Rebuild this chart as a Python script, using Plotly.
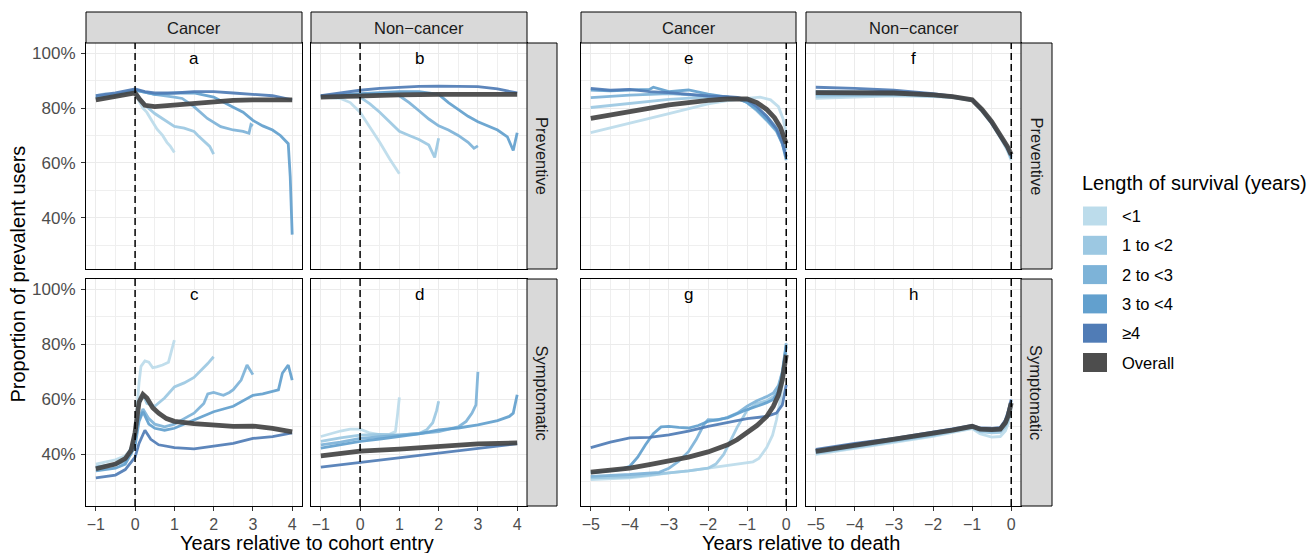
import plotly.graph_objects as go

# ---------------- DATA ----------------
SURVIVAL_GROUPS = ["<1", "1 to <2", "2 to <3", "3 to <4", "≥4", "Overall"]
Y_TICKS = [40, 60, 80, 100]
Y_TICK_LABELS = ["40%", "60%", "80%", "100%"]
X_TICKS_ENTRY = [-1, 0, 1, 2, 3, 4]
X_TICKS_DEATH = [-5, -4, -3, -2, -1, 0]
STRIP_COLS = ["Cancer", "Non\u2212cancer"]
STRIP_ROWS = ["Preventive", "Symptomatic"]

# Panel a: Cancer, Preventive, years relative to cohort entry
A_LT1_X = [-1, -0.75, -0.5, -0.25, 0, 0.1, 0.2, 0.3, 0.4, 0.56, 0.7, 0.81, 0.9, 1.0]
A_LT1_Y = [84.5, 85.3, 85.0, 85.6, 85.8, 82.5, 80.0, 78.4, 76.0, 72.3, 70.0, 67.5, 66.0, 63.8]
A_1TO2_X = [-1, -0.5, 0, 0.1, 0.3, 0.5, 0.75, 1.0, 1.25, 1.5, 1.6, 1.75, 1.9, 2.0]
A_1TO2_Y = [84.0, 85.0, 86.0, 84.0, 80.5, 78.0, 75.5, 73.3, 72.7, 71.5, 70.0, 68.0, 66.0, 63.2]
A_2TO3_X = [-1, -0.5, 0, 0.5, 1.0, 1.2, 1.5, 1.84, 2.18, 2.4, 2.5, 2.75, 2.9, 2.95, 3.0]
A_2TO3_Y = [84.0, 85.0, 86.5, 85.0, 84.0, 83.5, 80.5, 76.2, 73.2, 72.5, 72.0, 71.5, 70.8, 74.0, 73.5]
A_3TO4_X = [-1, -0.5, 0, 0.5, 1.0, 1.5, 2.0, 2.25, 2.5, 2.75, 3.0, 3.25, 3.5, 3.7, 3.8, 3.9, 3.95, 4.0]
A_3TO4_Y = [83.5, 84.5, 86.5, 85.0, 85.5, 85.5, 84.0, 82.0, 80.3, 78.5, 75.5, 73.5, 72.0, 70.0, 68.5, 67.0, 55.0, 33.8]
A_GE4_X = [-1, -0.5, 0, 0.25, 0.5, 1.0, 1.5, 2.0, 2.5, 3.0, 3.5, 4.0]
A_GE4_Y = [84.5, 85.5, 87.0, 86.0, 85.5, 85.5, 86.0, 86.0, 85.5, 85.0, 84.5, 83.0]
A_OVR_X = [-1, -0.5, 0, 0.1, 0.25, 0.5, 0.75, 1.0, 1.5, 2.0, 2.5, 3.0, 3.5, 4.0]
A_OVR_Y = [83.0, 84.2, 85.5, 83.5, 81.0, 80.5, 80.8, 81.2, 81.8, 82.5, 82.8, 83.0, 83.0, 83.0]

# Panel b: Non-cancer, Preventive, years relative to cohort entry
B_LT1_X = [-1, -0.5, -0.25, 0, 0.25, 0.5, 0.75, 1.0]
B_LT1_Y = [84.0, 83.5, 82.0, 78.5, 73.0, 67.5, 61.5, 56.0]
B_1TO2_X = [-1, -0.5, 0, 0.25, 0.5, 0.75, 1.0, 1.25, 1.5, 1.75, 1.9, 2.0]
B_1TO2_Y = [84.2, 84.3, 84.0, 81.5, 78.5, 75.0, 71.5, 70.0, 68.5, 66.5, 62.0, 69.0]
B_2TO3_X = [-1, 0, 0.5, 1.0, 1.25, 1.5, 1.75, 2.0, 2.25, 2.5, 2.75, 2.9, 3.0]
B_2TO3_Y = [84.3, 84.8, 85.2, 84.5, 82.0, 79.0, 76.0, 73.5, 72.0, 70.0, 67.5, 65.3, 66.2]
B_3TO4_X = [-1, 0, 1.0, 1.5, 2.0, 2.25, 2.5, 2.75, 3.0, 3.25, 3.5, 3.75, 3.9, 4.0]
B_3TO4_Y = [84.5, 85.2, 86.0, 86.0, 85.0, 82.0, 79.5, 77.0, 75.0, 73.5, 72.0, 69.5, 64.5, 71.0]
B_GE4_X = [-1, -0.5, 0, 0.5, 1.0, 1.5, 2.0, 2.5, 3.0, 3.5, 4.0]
B_GE4_Y = [84.5, 85.5, 86.5, 87.2, 87.6, 87.9, 88.0, 88.0, 87.8, 87.0, 85.5]
B_OVR_X = [-1, 0, 1, 2, 3, 4]
B_OVR_Y = [84.0, 84.5, 84.8, 85.0, 85.0, 85.0]

# Panel c: Cancer, Symptomatic, years relative to cohort entry
C_LT1_X = [-1, -0.75, -0.5, -0.25, -0.1, 0, 0.05, 0.1, 0.15, 0.25, 0.35, 0.45, 0.55, 0.7, 0.85, 0.92, 1.0]
C_LT1_Y = [36.5, 37.2, 38.0, 39.5, 42.0, 48.0, 58.0, 66.0, 72.0, 74.0, 73.5, 71.5, 71.8, 72.5, 73.5, 77.0, 81.5]
C_1TO2_X = [-1, -0.5, -0.25, -0.1, 0, 0.1, 0.2, 0.3, 0.5, 0.75, 1.0, 1.25, 1.5, 1.75, 1.85, 2.0]
C_1TO2_Y = [35.5, 36.5, 38.0, 40.0, 48.0, 58.0, 62.0, 58.5, 57.5, 60.5, 64.5, 66.0, 68.0, 71.5, 73.0, 75.5]
C_2TO3_X = [-1, -0.5, -0.25, 0, 0.1, 0.2, 0.35, 0.5, 0.75, 1.0, 1.25, 1.5, 1.75, 1.85, 2.0, 2.25, 2.4, 2.5, 2.7, 2.85, 3.0]
C_2TO3_Y = [35.3, 36.3, 37.5, 46.0, 53.0, 56.5, 53.0, 51.0, 50.0, 51.0, 53.0, 55.0, 58.5, 62.0, 62.5, 61.5, 62.5, 63.5, 67.0, 72.5, 69.0]
C_3TO4_X = [-1, -0.5, -0.25, 0, 0.1, 0.2, 0.35, 0.5, 0.75, 1.0, 1.5, 2.0, 2.5, 3.0, 3.25, 3.5, 3.65, 3.75, 3.9, 4.0]
C_3TO4_Y = [34.0, 35.0, 36.5, 43.0, 52.0, 55.5, 51.0, 49.5, 48.8, 49.5, 52.5, 55.5, 57.5, 61.5, 62.0, 63.0, 63.5, 69.5, 72.5, 67.0]
C_GE4_X = [-1, -0.5, -0.25, 0, 0.1, 0.25, 0.4, 0.6, 1.0, 1.5, 2.0, 2.5, 3.0, 3.5, 4.0]
C_GE4_Y = [31.5, 32.5, 34.5, 39.0, 44.0, 48.8, 45.5, 43.5, 42.5, 42.0, 43.0, 44.0, 45.8, 46.5, 47.8]
C_OVR_X = [-1, -0.5, -0.25, -0.1, 0, 0.05, 0.1, 0.2, 0.3, 0.45, 0.6, 0.8, 1.0, 1.5, 2.0, 2.5, 3.0, 3.5, 4.0]
C_OVR_Y = [34.8, 36.5, 38.5, 41.5, 48.0, 54.0, 59.0, 61.8, 60.5, 57.0, 55.0, 53.0, 52.0, 51.2, 50.6, 50.2, 50.3, 49.5, 48.2]

# Panel d: Non-cancer, Symptomatic, years relative to cohort entry
D_LT1_X = [-1, -0.75, -0.5, -0.25, 0, 0.25, 0.5, 0.75, 0.9, 0.95, 1.0]
D_LT1_Y = [46.5, 47.5, 48.5, 49.2, 49.2, 47.8, 47.2, 47.3, 48.3, 54.0, 60.7]
D_1TO2_X = [-1, -0.5, 0, 0.5, 1.0, 1.5, 1.7, 1.85, 1.95, 2.0]
D_1TO2_Y = [44.7, 46.0, 47.0, 47.3, 47.1, 47.6, 49.0, 51.5, 56.0, 59.3]
D_2TO3_X = [-1, -0.5, 0, 0.5, 1.0, 1.5, 2.0, 2.5, 2.7, 2.85, 2.95, 3.0]
D_2TO3_Y = [43.5, 44.5, 45.8, 46.5, 47.0, 47.6, 48.3, 50.0, 52.0, 55.0, 58.0, 70.0]
D_3TO4_X = [-1, -0.5, 0, 0.5, 1.0, 1.5, 2.0, 2.5, 3.0, 3.5, 3.8, 3.9, 4.0]
D_3TO4_Y = [42.3, 43.5, 44.7, 45.6, 46.5, 47.5, 48.9, 49.6, 50.7, 52.3, 53.8, 55.0, 61.7]
D_GE4_X = [-1, 0, 1, 2, 3, 4]
D_GE4_Y = [35.4, 37.1, 38.7, 40.5, 42.3, 43.9]
D_OVR_X = [-1, 0, 1, 2, 3, 4]
D_OVR_Y = [39.5, 41.2, 41.9, 42.9, 43.8, 44.2]

# Panel e: Cancer, Preventive, years relative to death
E_LT1_X = [-5, -4, -3, -2, -1.5, -1, -0.67, -0.4, -0.2, -0.08, 0]
E_LT1_Y = [71.0, 74.4, 78.0, 81.5, 82.7, 83.5, 84.0, 83.0, 80.5, 76.0, 70.8]
E_1TO2_X = [-5, -4, -3, -2, -1.5, -1.25, -1, -0.75, -0.5, -0.25, -0.1, 0]
E_1TO2_Y = [80.2, 81.7, 83.2, 84.0, 84.0, 83.8, 82.8, 80.0, 77.0, 73.0, 69.5, 64.7]
E_2TO3_X = [-5, -4, -3, -2, -1.5, -1.25, -1, -0.75, -0.5, -0.25, -0.1, 0]
E_2TO3_Y = [83.8, 84.7, 85.3, 84.5, 84.0, 83.5, 82.0, 79.0, 75.5, 71.5, 67.0, 62.3]
E_3TO4_X = [-5, -4.5, -4, -3.5, -3.4, -3, -2.5, -2, -1.5, -1.25, -1, -0.75, -0.5, -0.25, -0.1, 0]
E_3TO4_Y = [86.6, 86.3, 86.6, 86.8, 87.6, 86.0, 86.6, 85.1, 84.0, 83.5, 82.0, 79.5, 76.0, 72.0, 67.0, 61.0]
E_GE4_X = [-5, -4.5, -4, -3.5, -3, -2.5, -2, -1.5, -1.25, -1, -0.75, -0.5, -0.25, -0.1, 0]
E_GE4_Y = [87.2, 86.5, 86.8, 86.0, 85.6, 85.0, 84.4, 84.2, 83.9, 83.0, 80.5, 77.0, 72.5, 67.5, 62.3]
E_OVR_X = [-5, -4, -3, -2, -1.5, -1, -0.75, -0.5, -0.3, -0.15, 0]
E_OVR_Y = [76.2, 78.7, 81.2, 82.8, 83.3, 83.3, 82.0, 79.5, 76.5, 73.0, 67.0]

# Panel f: Non-cancer, Preventive, years relative to death
F_X = [-5, -4, -3, -2, -1.5, -1, -0.75, -0.5, -0.25, -0.1, 0]
F_LT1_Y = [83.5, 84.0, 84.5, 84.2, 83.8, 82.7, 78.8, 74.2, 68.5, 64.5, 61.0]
F_1TO2_Y = [84.3, 84.6, 84.8, 84.4, 83.9, 82.8, 79.0, 74.5, 68.8, 65.0, 61.5]
F_2TO3_Y = [85.0, 85.2, 85.2, 84.6, 84.0, 82.9, 79.3, 74.8, 69.2, 65.5, 62.0]
F_3TO4_Y = [86.0, 86.0, 85.8, 85.0, 84.3, 83.0, 79.5, 75.0, 69.5, 66.0, 63.0]
F_GE4_Y = [87.6, 87.2, 86.5, 85.3, 84.4, 83.0, 79.3, 74.5, 69.0, 65.5, 62.5]
F_OVR_Y = [85.6, 85.7, 85.5, 84.8, 84.2, 83.0, 79.5, 75.0, 69.5, 66.0, 63.0]

# Panel g: Cancer, Symptomatic, years relative to death
G_LT1_X = [-5, -4.5, -4, -3.5, -3, -2.5, -2, -1.5, -1.25, -1, -0.85, -0.7, -0.5, -0.35, -0.25, -0.15, -0.08, 0]
G_LT1_Y = [30.8, 31.2, 31.5, 32.3, 33.3, 34.0, 35.0, 36.0, 36.5, 37.0, 37.3, 38.5, 42.5, 47.0, 52.5, 60.0, 67.0, 76.8]
G_1TO2_X = [-5, -4, -3, -2.5, -2, -1.8, -1.6, -1.4, -1.25, -1, -0.75, -0.5, -0.33, -0.2, -0.1, 0]
G_1TO2_Y = [31.5, 31.8, 33.3, 34.0, 35.0, 36.5, 40.0, 46.0, 50.0, 56.0, 58.5, 59.5, 61.0, 64.0, 70.0, 79.8]
G_2TO3_X = [-5, -4, -3.25, -3, -2.75, -2.5, -2.3, -2.1, -2, -1.75, -1.5, -1.25, -1, -0.75, -0.5, -0.33, -0.2, -0.1, 0]
G_2TO3_Y = [32.0, 32.7, 33.5, 35.0, 37.5, 41.0, 45.5, 51.0, 52.6, 52.5, 53.5, 55.0, 57.5, 59.5, 61.0, 62.3, 65.0, 70.0, 80.4]
G_3TO4_X = [-5, -4.25, -4, -3.8, -3.6, -3.4, -3.2, -3, -2.75, -2.5, -2.25, -2, -1.5, -1, -0.75, -0.5, -0.33, -0.2, -0.1, 0]
G_3TO4_Y = [33.3, 34.5, 35.7, 39.0, 43.5, 47.5, 50.0, 50.2, 49.8, 49.6, 50.5, 52.0, 53.3, 56.3, 57.5, 58.8, 60.0, 63.0, 69.0, 79.2]
G_GE4_X = [-5, -4.5, -4, -3.5, -3, -2.5, -2, -1.5, -1, -0.5, -0.25, -0.1, 0]
G_GE4_Y = [42.5, 44.5, 46.0, 46.2, 47.1, 48.5, 50.2, 51.5, 53.0, 53.8, 55.0, 58.0, 65.3]
G_OVR_X = [-5, -4.5, -4, -3.5, -3, -2.5, -2, -1.5, -1.25, -1, -0.75, -0.5, -0.33, -0.2, -0.1, 0]
G_OVR_Y = [33.6, 34.2, 35.0, 36.3, 37.5, 39.0, 40.9, 43.5, 45.4, 47.8, 50.5, 53.8, 57.5, 61.5, 67.0, 76.2]

# Panel h: Non-cancer, Symptomatic, years relative to death
H_X = [-5, -4, -3, -2, -1.5, -1, -0.8, -0.5, -0.28, -0.15, -0.08, 0]
H_LT1_Y = [40.0, 42.2, 44.3, 46.6, 48.0, 49.4, 47.5, 46.3, 46.5, 48.5, 51.0, 56.5]
H_1TO2_Y = [40.4, 42.6, 44.6, 46.9, 48.4, 49.7, 48.3, 47.8, 48.0, 50.0, 52.5, 57.5]
H_2TO3_Y = [40.8, 43.0, 45.0, 47.3, 48.7, 50.0, 49.0, 48.5, 48.8, 51.0, 53.5, 58.5]
H_3TO4_Y = [41.3, 43.5, 45.4, 47.6, 49.0, 50.2, 49.2, 49.0, 49.3, 52.0, 55.0, 59.5]
H_GE4_Y = [41.8, 44.0, 45.8, 48.0, 49.3, 50.5, 49.6, 49.5, 49.8, 52.5, 55.5, 60.0]
H_OVR_Y = [41.1, 43.3, 45.2, 47.5, 48.8, 50.2, 49.2, 49.0, 49.2, 51.5, 54.0, 58.7]

# ---------------- STYLE / LAYOUT ----------------
W, H = 1314, 553
FONT = "Arial, 'Liberation Sans', Helvetica, sans-serif"
COLORS = ["#BCDCEB", "#9CC8E2", "#7DB3D8", "#62A0CE", "#507CB6", "#444444"]

PANEL_DATA = {
    "a": [(A_LT1_X, A_LT1_Y), (A_1TO2_X, A_1TO2_Y), (A_2TO3_X, A_2TO3_Y), (A_3TO4_X, A_3TO4_Y), (A_GE4_X, A_GE4_Y), (A_OVR_X, A_OVR_Y)],
    "b": [(B_LT1_X, B_LT1_Y), (B_1TO2_X, B_1TO2_Y), (B_2TO3_X, B_2TO3_Y), (B_3TO4_X, B_3TO4_Y), (B_GE4_X, B_GE4_Y), (B_OVR_X, B_OVR_Y)],
    "c": [(C_LT1_X, C_LT1_Y), (C_1TO2_X, C_1TO2_Y), (C_2TO3_X, C_2TO3_Y), (C_3TO4_X, C_3TO4_Y), (C_GE4_X, C_GE4_Y), (C_OVR_X, C_OVR_Y)],
    "d": [(D_LT1_X, D_LT1_Y), (D_1TO2_X, D_1TO2_Y), (D_2TO3_X, D_2TO3_Y), (D_3TO4_X, D_3TO4_Y), (D_GE4_X, D_GE4_Y), (D_OVR_X, D_OVR_Y)],
    "e": [(E_LT1_X, E_LT1_Y), (E_1TO2_X, E_1TO2_Y), (E_2TO3_X, E_2TO3_Y), (E_3TO4_X, E_3TO4_Y), (E_GE4_X, E_GE4_Y), (E_OVR_X, E_OVR_Y)],
    "f": [(F_X, F_LT1_Y), (F_X, F_1TO2_Y), (F_X, F_2TO3_Y), (F_X, F_3TO4_Y), (F_X, F_GE4_Y), (F_X, F_OVR_Y)],
    "g": [(G_LT1_X, G_LT1_Y), (G_1TO2_X, G_1TO2_Y), (G_2TO3_X, G_2TO3_Y), (G_3TO4_X, G_3TO4_Y), (G_GE4_X, G_GE4_Y), (G_OVR_X, G_OVR_Y)],
    "h": [(H_X, H_LT1_Y), (H_X, H_1TO2_Y), (H_X, H_2TO3_Y), (H_X, H_3TO4_Y), (H_X, H_GE4_Y), (H_X, H_OVR_Y)],
}

# pixel boxes: (left, right, top, bottom)
BOXES = {
    "a": (86, 302, 43, 269), "b": (311, 527, 43, 269),
    "c": (86, 302, 279, 506), "d": (311, 527, 279, 506),
    "e": (581, 796, 43, 269), "f": (806, 1021, 43, 269),
    "g": (581, 796, 279, 506), "h": (806, 1021, 279, 506),
}
ORDER = ["a", "b", "c", "d", "e", "f", "g", "h"]


def px(xp):
    return xp / W


def py(yp):
    return 1 - yp / H


fig = go.Figure()
layout = dict(
    width=W, height=H, autosize=False,
    margin=dict(l=0, r=0, t=0, b=0),
    paper_bgcolor="white", plot_bgcolor="white",
    showlegend=False,
    font=dict(family=FONT, color="black"),
)
shapes = []
annotations = []

for i, name in enumerate(ORDER, start=1):
    l, r, t, b = BOXES[name]
    entry = name in "abcd"
    bottom = name in "cdgh"
    left = name in "ac"
    xk = "xaxis" if i == 1 else f"xaxis{i}"
    yk = "yaxis" if i == 1 else f"yaxis{i}"
    xr = "x" if i == 1 else f"x{i}"
    yr = "y" if i == 1 else f"y{i}"
    layout[xk] = dict(
        domain=[px(l), px(r)], anchor=yr,
        range=[-1.25, 4.25] if entry else [-5.25, 0.25],
        tickmode="array", tickvals=X_TICKS_ENTRY if entry else X_TICKS_DEATH,
        showgrid=True, gridcolor="#EBEBEB", gridwidth=1.1,
        minor=dict(tick0=0, dtick=0.5, showgrid=True, gridcolor="#EFEFEF", gridwidth=0.6),
        zeroline=False, showline=True, mirror=True, linecolor="black", linewidth=1,
        ticks="outside" if bottom else "", ticklen=4, tickcolor="#333333", tickwidth=1,
        showticklabels=bottom,
        tickfont=dict(size=16, color="#4D4D4D", family=FONT),
    )
    layout[yk] = dict(
        domain=[py(b), py(t)], anchor=xr,
        range=[21.25, 103.75],
        tickmode="array", tickvals=Y_TICKS, ticktext=Y_TICK_LABELS,
        showgrid=True, gridcolor="#EBEBEB", gridwidth=1.1,
        minor=dict(tick0=0, dtick=10, showgrid=True, gridcolor="#EFEFEF", gridwidth=0.6),
        zeroline=False, showline=True, mirror=True, linecolor="black", linewidth=1,
        ticks="outside" if left else "", ticklen=4, tickcolor="#333333", tickwidth=1,
        showticklabels=left, ticklabelstandoff=2,
        tickfont=dict(size=17, color="#4D4D4D", family=FONT),
    )
    for k, (xs, ys) in enumerate(PANEL_DATA[name]):
        overall = k == 5
        fig.add_trace(go.Scatter(
            x=xs, y=ys, mode="lines", name=SURVIVAL_GROUPS[k],
            xaxis=xr, yaxis=yr,
            line=dict(color=COLORS[k], width=4.8 if overall else 2.8),
            opacity=0.92,
            hoverinfo="skip",
        ))
    # dashed reference line at 0
    shapes.append(dict(type="line", xref=xr, yref=f"{yr} domain", x0=0, x1=0, y0=0, y1=1,
                       line=dict(color="black", width=1.5, dash="7px,4px"), layer="above"))
    # panel letter
    annotations.append(dict(text=name, xref=xr, yref=yr, x=1.5 if entry else -2.5, y=98,
                            showarrow=False, font=dict(size=17, color="black", family=FONT),
                            xanchor="center", yanchor="middle"))

# top strips
for (l, r), label in zip([(86, 302), (311, 527), (581, 796), (806, 1021)], STRIP_COLS * 2):
    shapes.append(dict(type="rect", xref="paper", yref="paper", x0=px(l), x1=px(r), y0=py(43), y1=py(12),
                       fillcolor="#D9D9D9", line=dict(color="black", width=1), layer="above"))
    annotations.append(dict(text=label, xref="paper", yref="paper", x=px((l + r) / 2), y=py(27.5),
                            showarrow=False, font=dict(size=16.5, color="#1A1A1A", family=FONT),
                            xanchor="center", yanchor="middle"))
# right strips
for (l, r) in [(527, 557), (1021, 1052)]:
    for (t, b), label in zip([(43, 269), (279, 506)], STRIP_ROWS):
        shapes.append(dict(type="rect", xref="paper", yref="paper", x0=px(l), x1=px(r), y0=py(b), y1=py(t),
                           fillcolor="#D9D9D9", line=dict(color="black", width=1), layer="above"))
        annotations.append(dict(text=label, xref="paper", yref="paper", x=px((l + r) / 2), y=py((t + b) / 2),
                                showarrow=False, textangle=90, font=dict(size=16.5, color="#1A1A1A", family=FONT),
                                xanchor="center", yanchor="middle"))

# axis titles
annotations.append(dict(text="Proportion of prevalent users", xref="paper", yref="paper",
                        x=px(18), y=py(274.5), textangle=-90, showarrow=False,
                        font=dict(size=20, color="black", family=FONT), xanchor="center", yanchor="middle"))
annotations.append(dict(text="Years relative to cohort entry", xref="paper", yref="paper",
                        x=px(306.5), y=py(543), showarrow=False,
                        font=dict(size=20, color="black", family=FONT), xanchor="center", yanchor="middle"))
annotations.append(dict(text="Years relative to death", xref="paper", yref="paper",
                        x=px(801), y=py(543), showarrow=False,
                        font=dict(size=20, color="black", family=FONT), xanchor="center", yanchor="middle"))

# legend (manual)
annotations.append(dict(text="Length of survival (years)", xref="paper", yref="paper",
                        x=px(1080), y=py(183), showarrow=False,
                        font=dict(size=20, color="black", family=FONT), xanchor="left", yanchor="middle"))
for k, label in enumerate(SURVIVAL_GROUPS):
    cy = 216 + k * 29.3
    shapes.append(dict(type="rect", xref="paper", yref="paper", x0=px(1083), x1=px(1107),
                       y0=py(cy + 9.5), y1=py(cy - 9.5), fillcolor=COLORS[k] if k < 5 else "#4D4D4D",
                       line=dict(width=0)))
    annotations.append(dict(text=label, xref="paper", yref="paper", x=px(1120), y=py(cy),
                            showarrow=False, font=dict(size=16.5, color="black", family=FONT),
                            xanchor="left", yanchor="middle"))

layout["shapes"] = shapes
layout["annotations"] = annotations
fig.update_layout(**layout)
fig.write_html(
    "out.html",
    config={"displayModeBar": False},
    post_script="document.body.style.margin='0';document.body.style.padding='0';",
)
